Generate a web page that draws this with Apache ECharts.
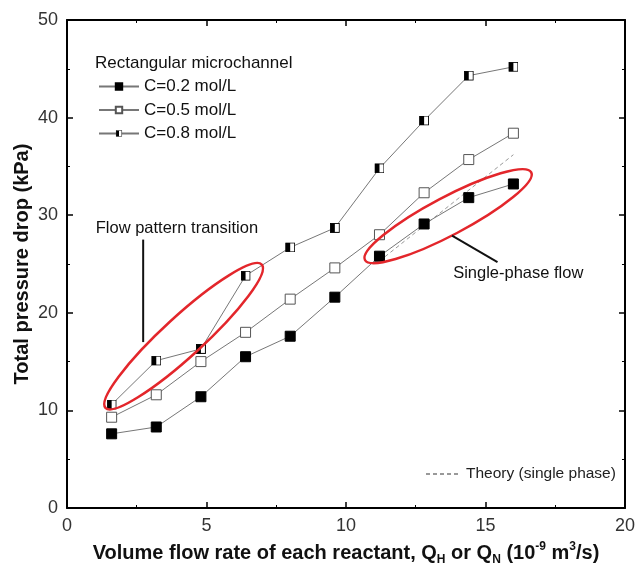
<!DOCTYPE html>
<html>
<head>
<meta charset="utf-8" />
<title>Total pressure drop</title>
<script src="https://cdn.jsdelivr.net/npm/echarts@6.0.0/dist/echarts.min.js"></script>
</head>
<body style="margin:0">
<div id="main" style="width:638px;height:574px;"></div>
<script type="text/javascript">
// volume flow rate of each reactant (10^-9 m3/s)
var flowRate = [1.6, 3.2, 4.8, 6.4, 8.0, 9.6, 11.2, 12.8, 14.4, 16.0];
// total pressure drop (kPa)
var dp02 = [7.6, 8.3, 11.4, 15.5, 17.6, 21.6, 25.8, 29.1, 31.8, 33.2];
var dp05 = [9.3, 11.6, 15.0, 18.0, 21.4, 24.6, 28.0, 32.3, 35.7, 38.4];
var dp08 = [10.6, 15.1, 16.3, 23.8, 26.7, 28.7, 34.8, 39.7, 44.3, 45.2];
var theoryX = [11.2, 16.0];
var theoryY = [25.3, 36.2];
var seriesNames = ['C=0.2 mol/L', 'C=0.5 mol/L', 'C=0.8 mol/L'];

// annotations (data coords for anchors)
var ellipses = [
  { center: [4.18, 17.6], rx: 106, ry: 20, angle: 42.5 },
  { center: [13.66, 29.9], rx: 94, ry: 19, angle: 27.8 }
];
var leaders = [
  [2.73, 27.5, 2.73, 17.0],
  [13.8, 27.9, 15.43, 25.2]
];
var notes = [
  { pos: [1.03, 28.6], text: 'Flow pattern transition' },
  { pos: [13.84, 24.0], text: 'Single-phase flow' }
];

var font = 'Liberation Sans, Arial, sans-serif';

function pairs(xs, ys) {
  return xs.map(function (x, i) { return [x, ys[i]]; });
}

var halfSymbol = 'image://data:image/svg+xml;charset=utf-8,' + encodeURIComponent(
  '<svg xmlns="http://www.w3.org/2000/svg" width="10" height="10">' +
  '<rect x="0.5" y="0.5" width="9" height="9" fill="#fff" stroke="#000"/>' +
  '<rect x="0.5" y="0.5" width="4.5" height="9" fill="#000"/></svg>');

var myChart = echarts.init(document.getElementById('main'));

var axisCommon = {
  type: 'value',
  axisLine: { show: true, onZero: false, lineStyle: { color: '#000', width: 2 } },
  axisTick: { show: true, inside: true, length: 6, lineStyle: { color: '#000', width: 1.5 } },
  minorTick: { show: true, splitNumber: 2, length: 3, lineStyle: { color: '#000', width: 1 } },
  splitLine: { show: false }
};

var lineCommon = {
  type: 'line',
  symbolSize: 10,
  symbolKeepAspect: true,
  lineStyle: { color: '#777', width: 1 },
  z: 3
};

option = {
  animation: false,
  backgroundColor: '#fff',
  textStyle: { fontFamily: font },
  grid: { left: 67, right: 6, top: 20, bottom: 66 },
  title: {
    text: 'Rectangular microchannel',
    left: 90, top: 50,
    textStyle: { fontSize: 17, fontWeight: 'normal', color: '#111', fontFamily: font }
  },
  legend: [{
    data: seriesNames,
    orient: 'vertical',
    left: 93, top: 73,
    itemWidth: 40, itemHeight: 8, itemGap: 6.5,
    textStyle: { fontSize: 17, color: '#111', fontFamily: font }
  }, {
    data: ['Theory (single phase)'],
    left: 420, top: 461,
    itemWidth: 35, itemHeight: 8,
    itemStyle: { opacity: 0 },
    textStyle: { fontSize: 15.5, color: '#222', fontFamily: font }
  }],
  xAxis: [Object.assign({}, axisCommon, {
    min: 0, max: 20, interval: 5, position: 'bottom',
    axisLabel: { fontSize: 18, color: '#333', margin: 9, fontFamily: font },
    name: '{b|Volume flow rate of each reactant, Q}{sub|H}{b| or Q}{sub|N}{b| (10}{sup|-9}{b| m}{sup|3}{b|/s)}',
    nameLocation: 'middle', nameGap: 32, nameMoveOverlap: false,
    nameTextStyle: {
      rich: {
        b: { fontSize: 20, fontWeight: 'bold', color: '#111', fontFamily: font },
        sub: { fontSize: 12, fontWeight: 'bold', color: '#111', fontFamily: font, padding: [14, 0, 0, 0] },
        sup: { fontSize: 12, fontWeight: 'bold', color: '#111', fontFamily: font, padding: [0, 0, 12, 0] }
      }
    }
  }), Object.assign({}, axisCommon, {
    min: 0, max: 20, interval: 5, position: 'top',
    axisLabel: { show: false }
  })],
  yAxis: [Object.assign({}, axisCommon, {
    min: 0, max: 50, interval: 10, position: 'left',
    axisLabel: { fontSize: 18, color: '#333', margin: 9, fontFamily: font },
    name: 'Total pressure drop (kPa)',
    nameLocation: 'middle', nameGap: 35, nameMoveOverlap: false,
    nameTextStyle: { fontSize: 20, fontWeight: 'bold', color: '#111', fontFamily: font }
  }), Object.assign({}, axisCommon, {
    min: 0, max: 50, interval: 10, position: 'right',
    axisLabel: { show: false }
  })],
  series: [
    Object.assign({}, lineCommon, {
      name: seriesNames[0],
      data: pairs(flowRate, dp02),
      symbol: 'rect',
      itemStyle: { color: '#000', borderColor: '#000', borderWidth: 1 }
    }),
    Object.assign({}, lineCommon, {
      name: seriesNames[1],
      data: pairs(flowRate, dp05),
      symbol: 'rect',
      itemStyle: { color: '#fff', borderColor: '#555', borderWidth: 1 }
    }),
    Object.assign({}, lineCommon, {
      name: seriesNames[2],
      data: pairs(flowRate, dp08),
      symbol: halfSymbol,
      itemStyle: { color: '#000', borderColor: '#000' }
    }),
    {
      name: 'Theory (single phase)',
      type: 'line',
      data: pairs(theoryX, theoryY),
      symbol: 'none',
      lineStyle: { color: '#999', width: 1, type: [4, 3] },
      itemStyle: { color: '#999' },
      z: 2
    },
    {
      type: 'custom',
      data: ellipses.map(function (e) { return e.center; }),
      silent: true,
      z: 4,
      renderItem: function (params, api) {
        var e = ellipses[params.dataIndex];
        var p = api.coord([api.value(0), api.value(1)]);
        return {
          type: 'ellipse',
          x: p[0], y: p[1],
          rotation: e.angle * Math.PI / 180,
          shape: { cx: 0, cy: 0, rx: e.rx, ry: e.ry },
          style: { fill: 'none', stroke: '#e3262b', lineWidth: 2.5 }
        };
      }
    },
    {
      type: 'custom',
      data: leaders,
      encode: { x: [0, 2], y: [1, 3] },
      silent: true,
      z: 4,
      renderItem: function (params, api) {
        var a = api.coord([api.value(0), api.value(1)]);
        var b = api.coord([api.value(2), api.value(3)]);
        return {
          type: 'line',
          shape: { x1: a[0], y1: a[1], x2: b[0], y2: b[1] },
          style: { stroke: '#111', lineWidth: 2 }
        };
      }
    },
    {
      type: 'custom',
      data: notes.map(function (n) { return n.pos; }),
      silent: true,
      z: 4,
      renderItem: function (params, api) {
        var p = api.coord([api.value(0), api.value(1)]);
        return {
          type: 'text',
          x: p[0], y: p[1],
          style: {
            text: notes[params.dataIndex].text,
            fill: '#111', fontSize: 16.5, fontFamily: font,
            align: 'left', verticalAlign: 'middle'
          }
        };
      }
    }
  ]
};

myChart.setOption(option);
</script>
</body>
</html>
